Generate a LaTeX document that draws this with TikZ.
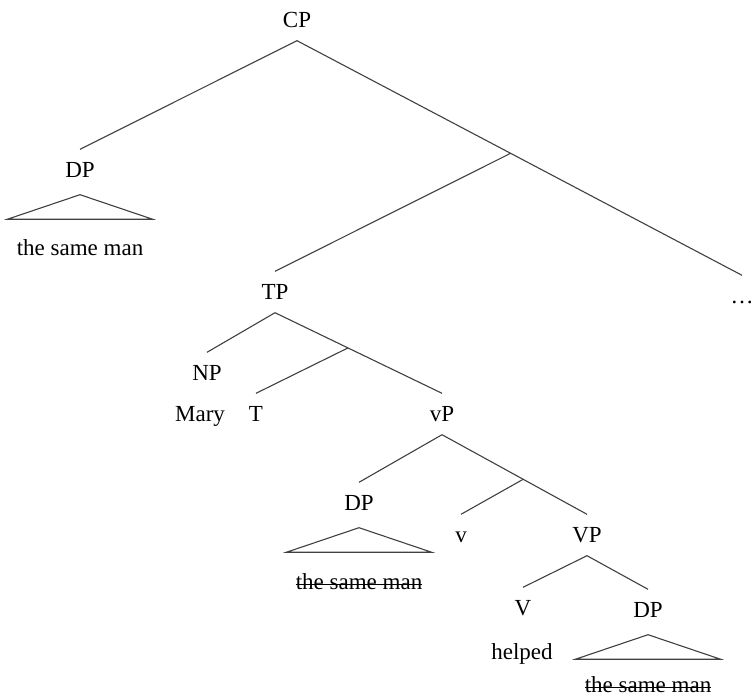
\documentclass[tikz,border=0pt]{standalone}
\usepackage{fontspec}
\setmainfont{Liberation Serif}
\usepackage{tikz}
\usetikzlibrary{calc}

\tikzset{
  lbl/.style={inner xsep=0pt, inner ysep=13pt, text height=15pt, text depth=0pt},
  branch/.style={draw=black!75, line width=1.1pt},
}

\begin{document}
\begin{tikzpicture}[x=1pt, y=-1pt, font=\fontsize{23}{27}\selectfont]
        \useasboundingbox (0,0) rectangle (754,696);

        \node[lbl] (CP) at (297,20) {CP};
        \node[lbl] (DPa) at (80,170) {DP};
        \node[lbl] (sa) at (80,248) {the same man};
        \node[lbl] (TP) at (275,292) {TP};
        \node[lbl] (dots) at (742,296) {\dots};
        \node[lbl] (NP) at (207,373) {NP};
        \node[lbl] (Mary) at (200,414) {Mary};
        \node[lbl] (T) at (256,414) {T};
        \node[lbl] (vP) at (442,414) {vP};
        \node[lbl] (DPb) at (359,503) {DP};
        \node[lbl] (sb) at (359,582) {the same man};
        \node[lbl] (v) at (461,535) {v};
        \node[lbl] (VP) at (587,535) {VP};
        \node[lbl] (V) at (523,608) {V};
        \node[lbl] (helped) at (522,652) {helped};
        \node[lbl] (DPc) at (648,610) {DP};
        \node[lbl] (sc) at (648,685) {the same man};

        \coordinate (b1) at ($(CP.south)!0.48!(dots.north)$);
        \coordinate (b2) at ($(TP.south)!0.437!(vP.north)$);
        \coordinate (b3) at ($(vP.south)!0.56!(VP.north)$);

        \path [-,branch](CP.south) edge (DPa.north);
        \path [-,branch](CP.south) edge (dots.north);
        \path [-,branch](b1) edge (TP.north);
        \path [-,branch](TP.south) edge (NP.north);
        \path [-,branch](TP.south) edge (vP.north);
        \path [-,branch](b2) edge (T.north);
        \path [-,branch](vP.south) edge (DPb.north);
        \path [-,branch](vP.south) edge (VP.north);
        \path [-,branch](b3) edge (v.north);
        \path [-,branch](VP.south) edge (V.north);
        \path [-,branch](VP.south) edge (DPc.north);

        % triangles
        \foreach \dp in {DPa,DPb,DPc}
            \draw[branch] ([yshift=-4pt]\dp.south) -- ++(-72.5,24.5) -- ++(145,0) -- cycle;

        % struck-out copies
        \foreach \s in {sb,sc}
            \draw[line width=0.9pt] ([yshift=-2pt]\s.west) -- ([yshift=-2pt]\s.east);
    \end{tikzpicture}
\end{document}
